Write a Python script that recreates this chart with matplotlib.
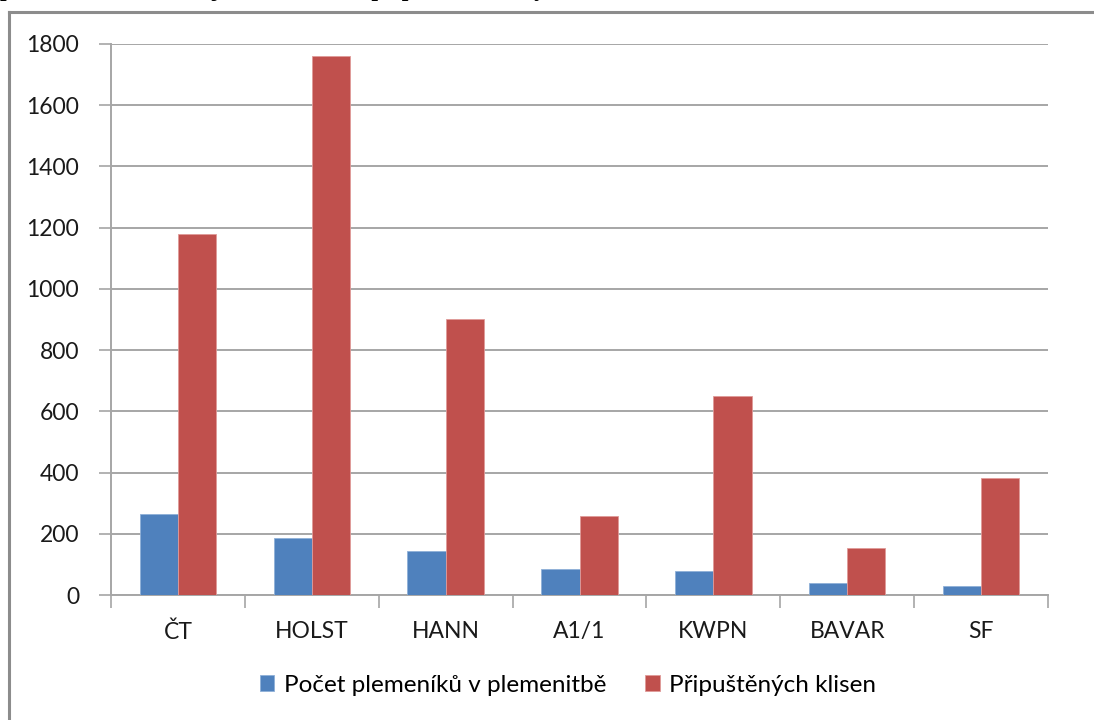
import numpy as np
import matplotlib.pyplot as plt
from matplotlib.lines import Line2D

# data
categories = ["ČT", "HOLST", "HANN", "A1/1", "KWPN", "BAVAR", "SF"]
plemenici = [265, 186, 144, 85, 80, 39, 30]
klisny = [1180, 1760, 902, 257, 651, 153, 383]
series_names = ["Počet plemeníků v plemenitbě", "Připuštěných klisen"]
yticks = [0, 200, 400, 600, 800, 1000, 1200, 1400, 1600, 1800]

plt.rcParams["font.family"] = ["Lato", "DejaVu Sans"]

fig = plt.figure(figsize=(10.94, 7.2), dpi=100)
ax = fig.add_axes([111 / 1094, 125 / 720, 937 / 1094, 551 / 720])

x = np.arange(len(categories))
w = 0.2857
ax.bar(x - w / 2, plemenici, w, color="#4F81BD", edgecolor="#8fb0d8",
       linewidth=0.6, label=series_names[0], zorder=3)
ax.bar(x + w / 2, klisny, w, color="#C0504D", edgecolor="#e09a98",
       linewidth=0.6, label=series_names[1], zorder=3)

ax.set_xlim(-0.5, len(categories) - 0.5)
ax.set_ylim(0, 1800)
ax.set_yticks(yticks)
ax.set_xticks(x)
ax.set_xticklabels(categories)
ax.set_xticks(np.arange(len(categories) + 1) - 0.5, minor=True)

ax.grid(axis="y", color="#a6a6a6", linewidth=1.4, zorder=0)
ax.tick_params(axis="y", length=9, width=1.2, color="#a6a6a6",
               labelsize=16.5, pad=14, labelcolor="#1a1a1a")
ax.tick_params(axis="x", which="major", length=0, labelsize=16.5, pad=19,
               labelcolor="#1a1a1a")
ax.tick_params(axis="x", which="minor", length=9, width=1.2, color="#a6a6a6")

for s in ["top", "right"]:
    ax.spines[s].set_visible(False)
for s in ["left", "bottom"]:
    ax.spines[s].set_color("#a6a6a6")
    ax.spines[s].set_linewidth(1.4)

ax.legend(loc="center", bbox_to_anchor=(568 / 1094, 1 - 685 / 720),
          bbox_transform=fig.transFigure, ncol=2, frameon=False,
          fontsize=17.5, handlelength=0.6, handleheight=0.6,
          handletextpad=0.4, columnspacing=1.6)

# outer chart frame (runs off the right and bottom edge)
fig.add_artist(Line2D([9 / 1094, 9 / 1094], [0, 1 - 12 / 720],
                      transform=fig.transFigure, color="#8c8c8c", linewidth=2.2))
fig.add_artist(Line2D([9 / 1094, 1], [1 - 12 / 720, 1 - 12 / 720],
                      transform=fig.transFigure, color="#8c8c8c", linewidth=2.2))

# caption above the chart, cut off by the top edge
fig.text(0.0, 1.0 + 4 / 720, "počet hřebců v ČR a jim v roce 2010 připuštěné klisny",
         family="Liberation Serif", fontweight="bold", fontsize=17,
         va="baseline", ha="left")

fig.savefig("out.png", dpi=100)
